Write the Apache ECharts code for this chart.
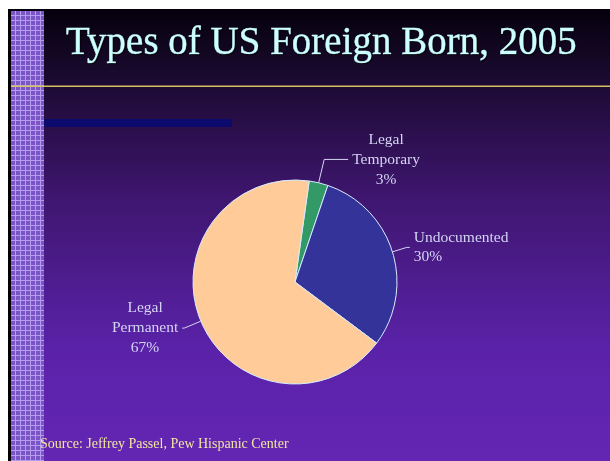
<!DOCTYPE html>
<html>
<head>
<meta charset="utf-8">
<script src="https://cdn.jsdelivr.net/npm/echarts@6/dist/echarts.min.js"></script>
<style>
  html, body { margin: 0; padding: 0; background: #fff; }
  #chart { width: 610px; height: 461px; }
</style>
</head>
<body>
<div id="chart"></div>
<script>
// 数据
const categories = ['Legal Temporary', 'Undocumented', 'Legal Permanent'];
const labelWords = [['Legal', 'Temporary'], ['Undocumented'], ['Legal', 'Permanent']];
const shares = [3, 30, 67];
const titleText = 'Types of US Foreign Born, 2005';
const sourceText = 'Source: Jeffrey Passel, Pew Hispanic Center';

// 引导线长度 [length, length2]，标签对齐
const leader = [[24, 24], [15, 3], [18, 2]];
const labelAlign = ['center', 'left', 'center'];

// 左侧网格条纹
const makeGrid = () => {
  const c = document.createElement('canvas');
  c.width = 5;
  c.height = 5;
  const ctx = c.getContext('2d');
  ctx.fillStyle = '#7b55c6';
  ctx.fillRect(0, 0, 5, 5);
  ctx.fillStyle = '#b49cee';
  ctx.fillRect(0, 0, 5, 1);
  ctx.fillRect(0, 0, 1, 5);
  return c;
};

const chart = echarts.init(document.getElementById('chart'));

const textColor = '#d4d4f4';
const serif = '"Liberation Serif", serif';

const option = {
  animation: false,
  color: ['#339966', '#333399', '#ffcc99'],
  graphic: [
    {
      type: 'rect', z: -10, silent: true,
      shape: { x: 8, y: 9, width: 602, height: 452 },
      style: {
        fill: new echarts.graphic.LinearGradient(0, 0, 0, 1, [
          { offset: 0, color: '#05000c' },
          { offset: 0.11, color: '#150826' },
          { offset: 0.42, color: '#3f1670' },
          { offset: 0.75, color: '#5a22a8' },
          { offset: 1, color: '#6426b4' }
        ])
      }
    },
    {
      type: 'rect', z: -9, silent: true,
      shape: { x: 8, y: 9, width: 3, height: 452 },
      style: { fill: '#000' }
    },
    {
      type: 'rect', z: -9, silent: true,
      shape: { x: 11, y: 11, width: 33, height: 450 },
      style: { fill: { image: makeGrid(), repeat: 'repeat' } }
    },
    {
      type: 'rect', z: -9, silent: true,
      shape: { x: 11, y: 85.5, width: 599, height: 1.5 },
      style: { fill: '#d6c25e' }
    },
    {
      type: 'rect', z: -9, silent: true,
      shape: { x: 44, y: 119, width: 188, height: 8 },
      style: { fill: '#0c0a6c' }
    },
    {
      type: 'text', left: 40, top: 437,
      style: {
        text: sourceText,
        fill: '#f0e6a0',
        font: '14px "Liberation Serif", serif'
      }
    }
  ],
  title: {
    text: titleText,
    left: 66,
    top: 24,
    padding: 0,
    textStyle: {
      fontFamily: serif,
      fontSize: 39,
      fontWeight: 'normal',
      color: '#ccffff',
      textBorderColor: '#ccffff',
      textBorderWidth: 0.5,
      textShadowColor: 'rgba(0,0,0,0.6)',
      textShadowOffsetX: 1,
      textShadowOffsetY: 1,
      textShadowBlur: 1
    }
  },
  series: [
    {
      type: 'pie',
      center: [295, 282],
      radius: 102,
      startAngle: 82,
      avoidLabelOverlap: false,
      itemStyle: { borderColor: '#d6ecff', borderWidth: 1 },
      label: {
        show: true,
        position: 'outside',
        distanceToLabelLine: 4,
        color: textColor,
        fontFamily: serif,
        fontSize: 15.5,
        lineHeight: 20,
        formatter: (p) =>
          labelWords[p.dataIndex].map((w) => '{c|' + w + '}').join('\n') +
          '\n{c|' + p.value + '%}'
      },
      labelLine: {
        show: true,
        lineStyle: { color: textColor, width: 1 }
      },
      emphasis: { disabled: true },
      data: categories.map((name, i) => ({
        name,
        value: shares[i],
        label: {
          rich: {
            c: {
              align: labelAlign[i],
              color: textColor,
              fontFamily: serif,
              fontSize: 15.5,
              lineHeight: i === 1 ? 19 : 20
            }
          }
        },
        labelLine: { length: leader[i][0], length2: leader[i][1] }
      }))
    }
  ]
};

chart.setOption(option);
</script>
</body>
</html>
